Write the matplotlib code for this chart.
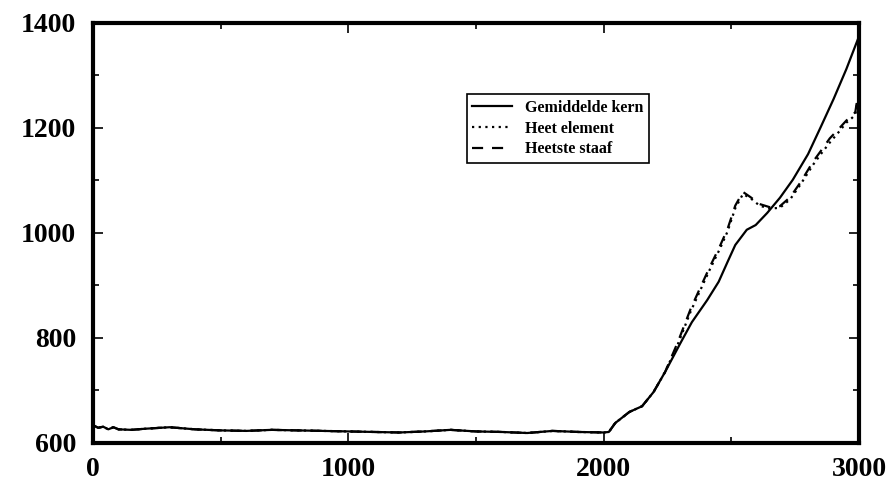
import matplotlib
matplotlib.use("Agg")
import matplotlib.pyplot as plt
from matplotlib.ticker import MultipleLocator

# tijd (s) en temperaturen
t_kern = [0, 20, 40, 60, 80, 100, 150, 200, 300, 400, 500, 600, 700, 800, 900,
          1000, 1100, 1200, 1300, 1400, 1500, 1600, 1700, 1800, 1900, 2000, 2020,
          2045, 2100, 2150, 2195, 2240, 2300, 2345, 2405, 2450, 2485, 2515,
          2560, 2595, 2640, 2690, 2740, 2800, 2850, 2900, 2950, 3000]
kern = [634, 629, 631, 626, 630, 626, 625, 627, 630, 626, 624, 623, 625, 624, 623,
        622, 621, 620, 622, 625, 622, 621, 619, 623, 621, 620, 621,
        638, 659, 670, 697, 735, 790, 830, 872, 907, 945, 977,
        1006, 1015, 1038, 1067, 1101, 1150, 1202, 1255, 1312, 1375]

t_elem = [2240, 2290, 2340, 2380, 2415, 2455, 2485, 2515, 2545, 2575, 2610,
          2650, 2690, 2730, 2770, 2820, 2850, 2885, 2920, 2950, 2970, 2985, 2993, 3000]
elem = [742, 788, 850, 893, 930, 970, 1003, 1047, 1074, 1066, 1052,
        1046, 1048, 1064, 1092, 1130, 1150, 1172, 1192, 1210, 1218, 1225, 1250, 1215]
staaf = [744, 792, 855, 898, 935, 975, 1008, 1052, 1078, 1068, 1055,
         1049, 1051, 1068, 1096, 1136, 1156, 1180, 1198, 1214, 1222, 1230, 1255, 1220]

plt.rcParams['font.family'] = ['Liberation Serif', 'DejaVu Serif']

fig = plt.figure(figsize=(8.94, 4.86), dpi=100)
ax = fig.add_axes([0.104, 0.0885, 0.857, 0.8645])

# gedeelte voor 2240 is voor alle drie gelijk
i0 = t_kern.index(2240)
ax.plot(t_kern, kern, color='black', lw=1.6, label='Gemiddelde kern')
ax.plot(t_kern[:i0 + 1] + t_elem[1:], kern[:i0 + 1] + elem[1:], color='black',
        lw=1.6, linestyle=(0, (1, 2)), label='Heet element')
ax.plot(t_kern[:i0 + 1] + t_elem[1:], kern[:i0 + 1] + staaf[1:], color='black',
        lw=1.6, linestyle=(0, (5, 4)), label='Heetste staaf')

ax.set_xlim(0, 3000)
ax.set_ylim(600, 1400)
ax.set_xticks([0, 1000, 2000, 3000])
ax.set_yticks([600, 800, 1000, 1200, 1400])
ax.xaxis.set_minor_locator(MultipleLocator(500))
ax.yaxis.set_minor_locator(MultipleLocator(100))
ax.tick_params(which='both', direction='in', top=True, right=True, width=1.2)
ax.tick_params(which='major', length=7, labelsize=20)
ax.tick_params(axis='x', which='major', pad=10)
ax.tick_params(axis='y', which='major', pad=12)
ax.tick_params(which='minor', length=4)
for lab in ax.get_xticklabels() + ax.get_yticklabels():
    lab.set_fontweight('bold')
for sp in ax.spines.values():
    sp.set_linewidth(3)

leg = ax.legend(loc='upper left', bbox_to_anchor=(0.488, 0.83), fancybox=False,
                edgecolor='black', framealpha=1, prop={'size': 11.5, 'weight': 'bold'},
                handlelength=2.5, borderpad=0.35, labelspacing=0.3,
                borderaxespad=0)
leg.get_frame().set_linewidth(1.2)

fig.savefig('out.png', dpi=100)
